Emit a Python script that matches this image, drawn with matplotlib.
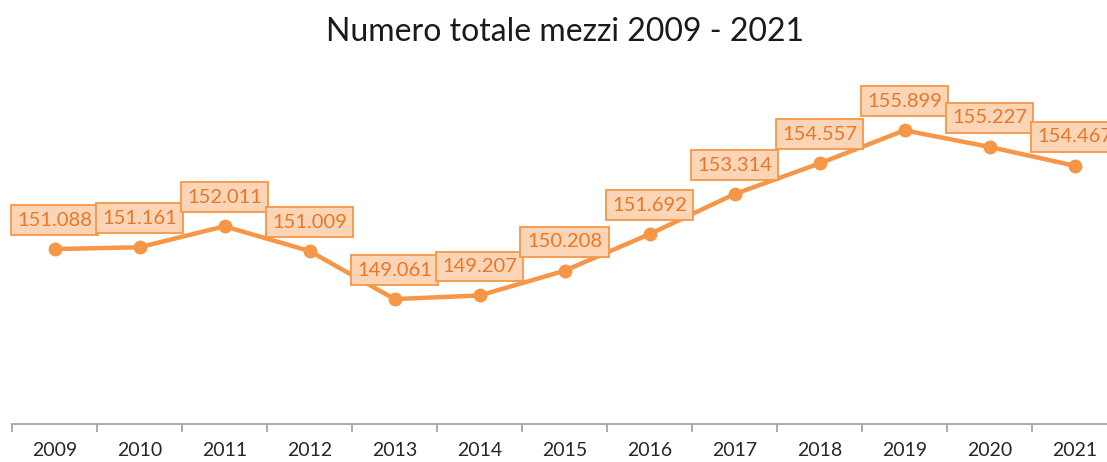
import matplotlib
matplotlib.use("Agg")
import matplotlib.pyplot as plt

plt.rcParams["font.family"] = ["Lato", "DejaVu Sans"]

LINE = "#f79646"
FILL = "#fbd5b5"
TXT = "#e8772a"
AXIS = "#a6a6a6"

years = ["2009", "2010", "2011", "2012", "2013", "2014", "2015",
         "2016", "2017", "2018", "2019", "2020", "2021"]
mezzi = [151.088, 151.161, 152.011, 151.009, 149.061, 149.207, 150.208,
         151.692, 153.314, 154.557, 155.899, 155.227, 154.467]
labels = ["151.088", "151.161", "152.011", "151.009", "149.061", "149.207", "150.208",
          "151.692", "153.314", "154.557", "155.899", "155.227", "154.467"]

fig = plt.figure(figsize=(11.07, 4.62), dpi=100)
# axes runs a little past the right edge, like the cropped original
ax = fig.add_axes([12 / 1107, 38 / 462, 1105 / 1107, 348 / 462])

x = list(range(len(years)))
ax.plot(x, mezzi, color=LINE, linewidth=3.2, marker="o", markersize=9,
        solid_capstyle="round", zorder=3)

for xi, v, lab in zip(x, mezzi, labels):
    ax.annotate(lab, (xi, v), xytext=(0, 29), textcoords="offset pixels",
                ha="center", va="center", fontsize=14.5, color=TXT, zorder=4,
                bbox=dict(boxstyle="square,pad=0.32", facecolor=FILL, edgecolor=LINE,
                          linewidth=1.3),
                annotation_clip=False)

ax.set_xlim(-0.5, len(years) - 0.5)
ax.set_ylim(144, 158.1)
ax.set_yticks([])
ax.set_xticks(x)
ax.set_xticklabels(years, fontsize=14, color="#262626")
ax.set_xticks([i - 0.5 for i in range(len(years) + 1)], minor=True)
ax.tick_params(axis="x", which="major", length=0, pad=13)
ax.tick_params(axis="x", which="minor", length=6, width=1.3, color=AXIS)

for s in ["top", "right", "left"]:
    ax.spines[s].set_visible(False)
ax.spines["bottom"].set_color(AXIS)
ax.spines["bottom"].set_linewidth(1.3)

fig.text(565 / 1107, 1 - 32 / 462, "Numero totale mezzi 2009 - 2021", ha="center", va="center",
         fontsize=23, color="#1a1a1a")

fig.savefig("out.png", dpi=100, facecolor="white")
